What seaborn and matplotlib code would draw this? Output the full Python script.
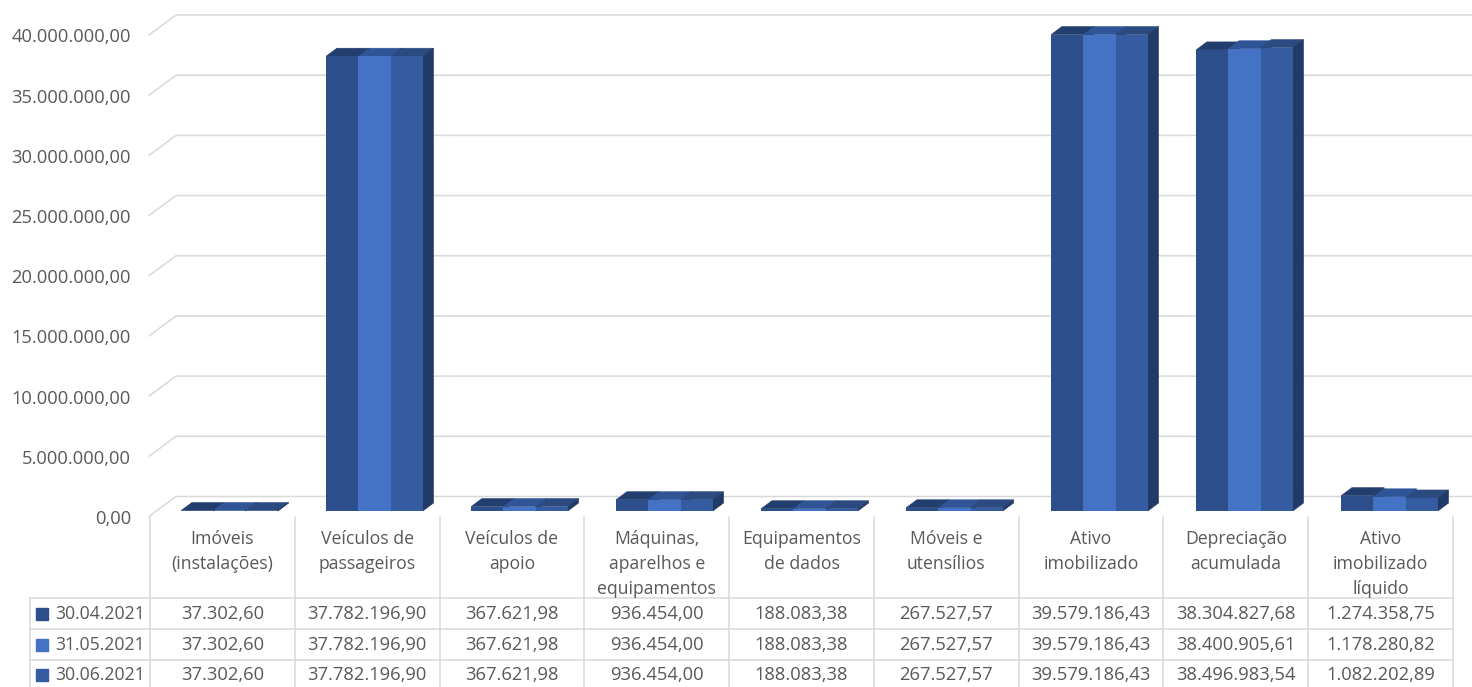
import pandas as pd
import matplotlib.pyplot as plt
import seaborn as sns
from matplotlib.patches import Polygon
from matplotlib.transforms import Affine2D, ScaledTranslation

categories = ['Imóveis\n(instalações)', 'Veículos de\npassageiros', 'Veículos de\napoio',
              'Máquinas,\naparelhos e\nequipamentos', 'Equipamentos\nde dados', 'Móveis e\nutensílios',
              'Ativo\nimobilizado', 'Depreciação\nacumulada', 'Ativo\nimobilizado\nlíquido']
dates = ['30.04.2021', '31.05.2021', '30.06.2021']
abr_2021 = [37302.60, 37782196.90, 367621.98, 936454.00, 188083.38, 267527.57, 39579186.43, 38304827.68, 1274358.75]
mai_2021 = [37302.60, 37782196.90, 367621.98, 936454.00, 188083.38, 267527.57, 39579186.43, 38400905.61, 1178280.82]
jun_2021 = [37302.60, 37782196.90, 367621.98, 936454.00, 188083.38, 267527.57, 39579186.43, 38496983.54, 1082202.89]
yticks = [0, 5000000, 10000000, 15000000, 20000000, 25000000, 30000000, 35000000, 40000000]

front_colors = ['#2C4F8C', '#4472C4', '#355CA0']
top_colors = ['#223E6E', '#2F5597', '#2A4A80']
side_colors = ['#203864', '#2A4B85', '#213A66']
grid_color = '#D9D9D9'
text_color = '#595959'


def br_number(v):
    # 37302.6 -> 37.302,60
    return f'{v:,.2f}'.replace(',', 'x').replace('.', ',').replace('x', '.')


series = [abr_2021, mai_2021, jun_2021]
df = pd.DataFrame({'categoria': categories * 3,
                   'data': [d for d in dates for _ in categories],
                   'valor': abr_2021 + mai_2021 + jun_2021})

sns.set_theme(style='white')
plt.rcParams['font.family'] = ['Open Sans', 'DejaVu Sans']
font_size = 13.2
cat_font_size = 12.7

W, H = 1472, 687
fig = plt.figure(figsize=(W / 100, H / 100), dpi=100)

# Main axes: the front plane of the bars
left, right, base, top = 157, 1462, 511, 29.5
ax = fig.add_axes([left / W, (H - base) / H, (right - left) / W, (base - top) / H])
sns.barplot(data=df, x='categoria', y='valor', hue='data', hue_order=dates, order=categories,
            palette=front_colors, saturation=1, width=0.667, gap=0, errorbar=None, legend=False,
            linewidth=0, ax=ax)
ax.set_xlim(-0.5, 8.5)
ax.set_ylim(0, 40000000)
ax.set_xlabel('')
ax.set_ylabel('')
ax.set_xticks([])
sns.despine(ax=ax, left=True, bottom=True)
ax.patch.set_alpha(0)

# Fake 3D: depth of the bars in data units
depth_x = 10.7 / ((right - left) / 9)
depth_y = 8 * 40000000 / (base - top)

for j, container in enumerate(ax.containers):
    for bar in container:
        x0 = bar.get_x()
        x1 = x0 + bar.get_width()
        h = bar.get_height()
        bar.set_zorder(3 + j * 2)
        ax.add_patch(Polygon([(x0, h), (x1, h), (x1 + depth_x, h + depth_y), (x0 + depth_x, h + depth_y)],
                             facecolor=top_colors[j], edgecolor=top_colors[j], lw=0.4,
                             zorder=2 + j * 2, clip_on=False))
        ax.add_patch(Polygon([(x1, 0), (x1 + depth_x, depth_y), (x1 + depth_x, h + depth_y), (x1, h)],
                             facecolor=side_colors[j], edgecolor=side_colors[j], lw=0.4,
                             zorder=2 + j * 2, clip_on=False))

# Gridlines on the back wall with the diagonal on the side wall
wall_tr = ax.get_yaxis_transform()
x_front = (149 - left) / (right - left)
x_back = (176 - left) / (right - left)
x_end = (W - left) / (right - left)
back_shift = Affine2D().translate(0, 14.5)
front_shift = Affine2D().translate(0, -5.5)
for v in yticks:
    p_front = (wall_tr + front_shift).transform((x_front, v))
    p_back = (wall_tr + back_shift).transform((x_back, v))
    p_end = (wall_tr + back_shift).transform((x_end, v))
    fig.add_artist(plt.Line2D([p_front[0], p_back[0], p_end[0]], [p_front[1], p_back[1], p_end[1]],
                              transform=None, color=grid_color, lw=1.1, zorder=0))

# Y tick labels sit a bit lower than the bar plane
ax.set_yticks(yticks)
ax.set_yticklabels([br_number(v) for v in yticks], fontsize=font_size, color=text_color)
ax.tick_params(axis='y', length=0, pad=18.7)
for lab in ax.get_yticklabels():
    lab.set_transform(lab.get_transform() + ScaledTranslation(0, -6 / 100, fig.dpi_scale_trans))

# Data table below, y in picture pixels
tab = fig.add_axes([150 / W, 0, 1303 / W, (H - 517) / H])
tab.set_xlim(-0.5, 8.5)
tab.set_ylim(H, 517)
tab.axis('off')
row_lines = [598, 629, 659.5]
row_centers = [614, 644.5, 675]
tab_left = tab.get_yaxis_transform()
legend_edge = (30 - 150) / 1303

for k in range(10):
    tab.plot([k - 0.5, k - 0.5], [517, H], color=grid_color, lw=1.1, clip_on=False)
tab.plot([legend_edge, legend_edge], [598, H], color=grid_color, lw=1.1, clip_on=False, transform=tab_left)
for y in row_lines:
    tab.plot([legend_edge, 1], [y, y], color=grid_color, lw=1.1, clip_on=False, transform=tab_left)

for i, cat in enumerate(categories):
    tab.text(i, 529.5, cat, ha='center', va='top', fontsize=cat_font_size, color=text_color, linespacing=1.52)

for r, d in enumerate(dates):
    tab.text(0, row_centers[r], d, ha='right', va='center', fontsize=cat_font_size, color=text_color,
             transform=tab_left + Affine2D().translate(-5, 0))
    tab.plot([0], [row_centers[r]], marker='s', ms=8, color=front_colors[r], clip_on=False,
             transform=tab_left + Affine2D().translate(-108, 0))
    for i, v in enumerate(series[r]):
        tab.text(i, row_centers[r], br_number(v), ha='center', va='center', fontsize=font_size, color=text_color)

fig.savefig('out.png', dpi=100)
